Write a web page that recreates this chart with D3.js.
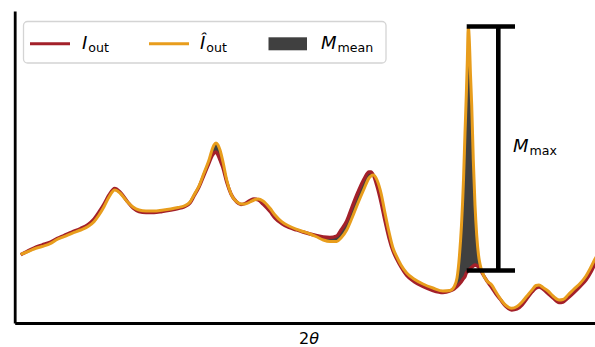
<!DOCTYPE html>
<html>
<head>
<meta charset="utf-8">
<script src="https://cdn.jsdelivr.net/npm/d3@7"></script>
<style>
  html, body { margin: 0; padding: 0; background: #fff; }
  svg { display: block; font-family: "DejaVu Sans", sans-serif; }
</style>
</head>
<body>
<svg id="chart" width="595" height="347"></svg>
<script>
// Diffraction angle 2θ (degrees) shared by both patterns
const twoTheta = [
  5.60, 6.23, 6.93, 7.73, 8.60, 9.23, 9.93, 10.73, 11.60, 12.33,
  12.93, 13.43, 13.93, 14.43, 15.00, 15.53, 16.26, 16.83, 17.43, 18.13,
  18.93, 19.73, 20.60, 21.33, 21.93, 22.53, 22.93, 23.43, 23.93, 24.43,
  24.73, 24.93, 25.13, 25.33, 25.53, 25.83, 26.20, 26.63, 27.20, 27.63,
  28.03, 28.53, 28.93, 29.36, 29.83, 30.53, 31.03, 31.70, 32.43, 33.20,
  33.83, 34.53, 35.13, 35.86, 36.53, 37.20, 37.63, 38.20, 38.73, 39.33,
  39.93, 40.43, 40.63, 40.86, 41.23, 41.63, 42.03, 42.43, 42.83, 43.20,
  43.63, 44.20, 44.93, 45.83, 46.83, 47.83, 48.53, 48.93, 49.23, 49.48,
  49.68, 49.88, 50.03, 50.16, 50.26, 50.36, 50.46, 50.58, 50.70, 50.86,
  51.03, 51.20, 51.38, 51.53, 51.83, 52.23, 52.70, 53.13, 53.53, 54.13,
  54.70, 55.23, 55.73, 56.23, 56.73, 57.13, 57.43, 57.83, 58.33, 58.83,
  59.43, 59.83, 60.33, 60.93, 61.53, 62.13, 62.63, 63.03, 63.43
];

// Measured pattern I_out (arbitrary intensity units)
const iOut = [
  272.8, 286, 300, 312, 324, 338, 350, 364, 378, 394,
  416, 444, 476, 512, 538, 524, 486, 460, 446, 442,
  442, 446, 452, 458, 464, 480, 508, 544, 592, 640,
  668, 680, 684, 672, 652, 620, 564, 516, 484, 474,
  478, 490, 496, 492, 476, 446, 420, 398, 382, 372,
  364, 356, 350, 344, 342, 348, 372, 408, 464, 524,
  576, 604, 604, 592, 548, 484, 408, 340, 288, 256,
  224, 190, 166, 146, 130, 122, 128, 136, 146, 156,
  166, 178, 186, 200, 204.8, 210, 214, 218, 222.8, 228,
  232, 230, 224, 216, 194, 168, 142, 116, 96, 66,
  52, 56, 72, 98, 124, 140, 144, 136, 118, 100,
  82, 84, 100, 122, 146, 172, 204, 236, 264
];

// Predicted pattern Î_out
const iOutHat = [
  274.8, 284, 296, 306, 318.8, 334, 345.2, 358.8, 372, 386,
  405.2, 432, 465.2, 504, 532, 520, 485.2, 464, 452, 448,
  448, 451.2, 456, 462, 468, 484, 512, 548, 600, 652,
  692, 712, 720, 712, 692, 644, 572, 516, 485.2, 476,
  476, 484, 492, 496, 488, 458.8, 432, 405.2, 388, 374.8,
  366, 356, 346, 332, 326, 326, 340, 372, 420, 480,
  536, 580, 588, 592, 572, 520, 440, 364, 300, 265.2,
  232, 200, 176, 156, 140, 128, 130, 144, 180, 272,
  392, 572, 760, 912, 1044, 1186, 1132, 992, 872, 652,
  472, 352, 272, 236, 196, 168, 152, 124, 98.8, 70,
  58.8, 66, 84, 108, 132, 150, 152, 142, 128, 108,
  92, 94, 112, 136, 158, 188, 224, 256, 284
];

// Span of the M_max bracket along 2θ
const maxBracket = { left: 50.2, right: 55.03, stem: 53.36 };

const svg = d3.select("#chart");
const x = d3.scaleLinear().domain([5, 64]).range([14.7, 604.7]);
const y = d3.scaleLinear().domain([0, 1248]).range([323, 11]);

const rows = twoTheta.map((t, i) => ({ t, a: iOut[i], b: iOutHat[i] }));

const RED = "#a3202a";
const ORANGE = "#e89d1c";
const GREY = "#404040";

// Shaded difference between the two patterns
svg.append("path")
  .datum(rows)
  .attr("fill", GREY)
  .attr("d", d3.area().curve(d3.curveMonotoneX)
    .x(d => x(d.t)).y0(d => y(d.a)).y1(d => y(d.b)));

const line = key => d3.line().curve(d3.curveMonotoneX)
  .x(d => x(d.t)).y(d => y(d[key]));

svg.append("path").datum(rows)
  .attr("fill", "none").attr("stroke", RED)
  .attr("stroke-width", 3.4).attr("stroke-linejoin", "round")
  .attr("d", line("a"));

svg.append("path").datum(rows)
  .attr("fill", "none").attr("stroke", ORANGE)
  .attr("stroke-width", 3).attr("stroke-linejoin", "round")
  .attr("d", line("b"));

// Axes: only the left and bottom spines, no ticks
svg.append("g")
  .attr("transform", `translate(0,${y(0)})`)
  .call(d3.axisBottom(x).tickValues([]).tickSizeOuter(0))
  .call(g => g.select(".domain").attr("stroke", "#000").attr("stroke-width", 3));
svg.append("g")
  .attr("transform", `translate(${x(5)},0)`)
  .call(d3.axisLeft(y).tickValues([]).tickSizeOuter(0))
  .call(g => g.select(".domain").attr("stroke", "#000").attr("stroke-width", 2.8));

svg.append("text")
  .attr("x", 309).attr("y", 344)
  .attr("text-anchor", "middle").attr("font-size", 16)
  .call(t => {
    t.append("tspan").text("2");
    t.append("tspan").attr("font-style", "italic").text("θ");
  });

// M_max bracket at the largest deviation
const peakIdx = d3.maxIndex(rows, d => Math.abs(d.b - d.a));
const topV = rows[peakIdx].b, botV = rows[peakIdx].a;
const br = svg.append("g").attr("stroke", "#000").attr("stroke-width", 4.6);
br.append("line").attr("x1", x(maxBracket.left)).attr("x2", x(maxBracket.right))
  .attr("y1", y(topV)).attr("y2", y(topV));
br.append("line").attr("x1", x(maxBracket.left)).attr("x2", x(maxBracket.right))
  .attr("y1", y(botV)).attr("y2", y(botV));
br.append("line").attr("x1", x(maxBracket.stem)).attr("x2", x(maxBracket.stem))
  .attr("y1", y(topV)).attr("y2", y(botV));

function mathLabel(sel, main, sub, opts) {
  const t = sel.append("text").attr("x", opts.x).attr("y", opts.y)
    .attr("font-size", 18).attr("fill", "#000");
  t.append("tspan").attr("font-style", "italic").text(main);
  t.append("tspan").attr("font-size", 12.6).attr("dy", 3).attr("dx", 1).text(sub);
  return t;
}

mathLabel(svg, "M", "max", { x: 513, y: 152 });

// Legend
const lg = svg.append("g");
lg.append("rect")
  .attr("x", 23.5).attr("y", 21.5).attr("width", 362.5).attr("height", 41.5)
  .attr("rx", 4).attr("fill", "#fff").attr("fill-opacity", 0.8)
  .attr("stroke", "#d4d4d4").attr("stroke-width", 1.3);
lg.append("line").attr("x1", 30).attr("x2", 70).attr("y1", 43.7).attr("y2", 43.7)
  .attr("stroke", RED).attr("stroke-width", 3);
mathLabel(lg, "I", "out", { x: 82, y: 48.5 });
lg.append("line").attr("x1", 149).attr("x2", 189).attr("y1", 43.7).attr("y2", 43.7)
  .attr("stroke", ORANGE).attr("stroke-width", 3);
mathLabel(lg, "Î", "out", { x: 200, y: 48.5 });
lg.append("rect").attr("x", 268.5).attr("y", 37.3).attr("width", 38.5).attr("height", 13)
  .attr("fill", GREY);
mathLabel(lg, "M", "mean", { x: 321, y: 48.5 });
</script>
</body>
</html>
